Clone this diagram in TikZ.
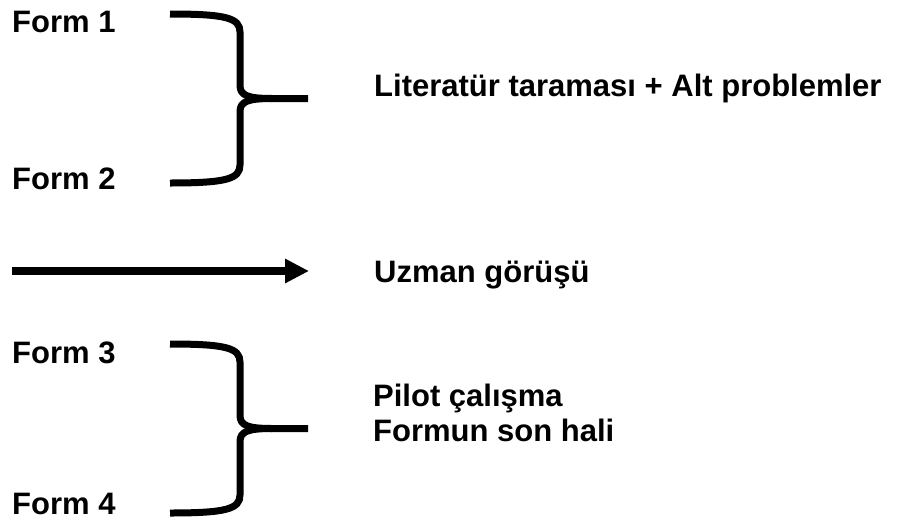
\documentclass[tikz,border=0pt]{standalone}
\usepackage{fontspec}
\setmainfont{Liberation Sans}
\usetikzlibrary{arrows.meta}

\tikzset{
  label/.style={anchor=base west, inner sep=0pt, font=\fontsize{31}{34.5}\selectfont\bfseries},
  brace/.style={line width=7pt, line cap=butt, line join=round},
}

\begin{document}
\begin{tikzpicture}[x=1pt, y=-1pt]%
  \useasboundingbox (0,0) rectangle (897,520);
  % form labels
  \node[label] (form1) at (12,32) {Form 1};
  \node[label] (form2) at (12,189) {Form 2};
  \node[label] (form3) at (12,363) {Form 3};
  \node[label] (form4) at (12,514) {Form 4};
  % the two braces
  \foreach \t/\b in {14/183, 344/513} {
    \pgfmathsetmacro{\m}{(\t+\b)/2}
    \draw[brace]
    (170,\t) .. controls (226,\t) and (240,{\t+4}) .. (240,{\t+18})
    -- (240,{\m-13}) .. controls (240,{\m-3}) and (248,\m) .. (272,\m)
    -- (308,\m)
    ;
    \draw[brace]
    (170,\b) .. controls (226,\b) and (240,{\b-4}) .. (240,{\b-18})
    -- (240,{\m+13}) .. controls (240,{\m+3}) and (248,\m) .. (272,\m)
    ;
  }
  \node[label] (lit) at (374,96) {Literatür taraması + Alt problemler};
  % arrow
  \coordinate (arrowstart) at (12,271);
  \coordinate (arrowend) at (309,271);
  \draw[line width=8pt, -{Triangle[length=24pt, width=23pt]}] (arrowstart) -- (arrowend);
  \node[label] (uzman) at (374,282) {Uzman görüşü};
  \node[label, align=left] (pilot) at (373,441) {Pilot çalışma\\Formun son hali};
\end{tikzpicture}
\end{document}
